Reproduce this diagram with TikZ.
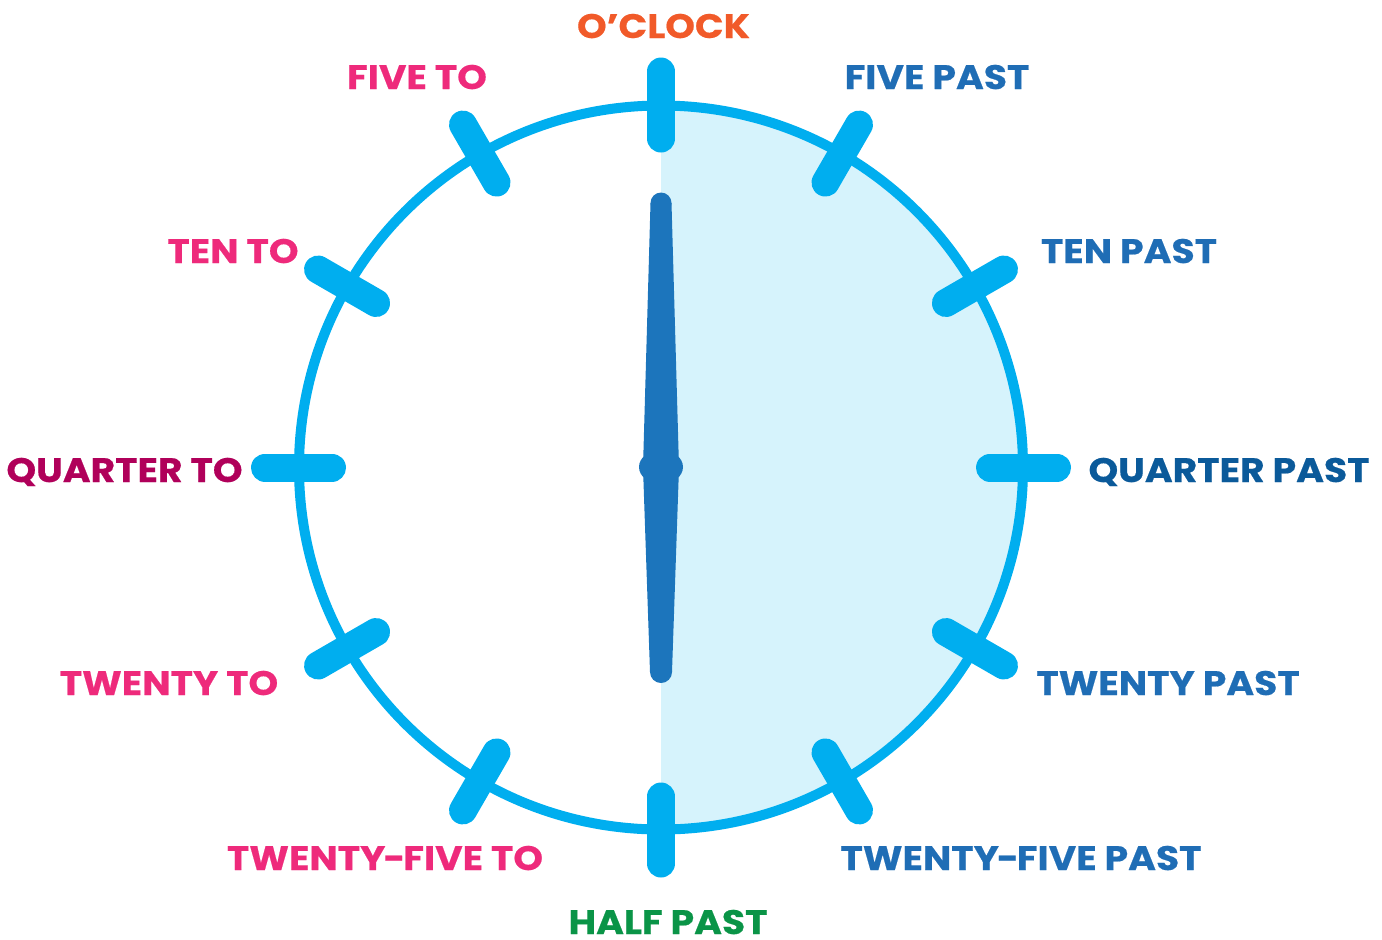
\documentclass[tikz,border=0pt]{standalone}
\usepackage{fontspec}
\setmainfont{Poppins}
\newfontfamily\lblfont{Poppins}[FakeStretch=1.11, BoldFeatures={FakeBold=0.5}]
\newcommand{\hyp}{\kern-1pt-\kern-1pt}
\definecolor{ring}{HTML}{00AEEF}
\definecolor{lightfill}{HTML}{D6F3FC}
\definecolor{handc}{HTML}{1C75BC}
\definecolor{orangec}{HTML}{F15A29}
\definecolor{pinkc}{HTML}{EE2A7B}
\definecolor{magc}{HTML}{B0005A}
\definecolor{bluec}{HTML}{1F6DB5}
\definecolor{dbluec}{HTML}{0B5A9A}
\definecolor{greenc}{HTML}{0A9447}
\begin{document}
\begin{tikzpicture}[x=0.5pt,y=-0.5pt,
  lbl/.style={anchor=base,inner sep=0pt,font=\lblfont\fontsize{17}{20}\selectfont\bfseries},
  tickmark/.style={draw=ring,line width=14pt,line cap=round},
  ringline/.style={draw=ring,line width=5pt}]
\useasboundingbox (0,0) rectangle (1382,939);
% light right half
\begin{scope}
  \clip (661,0) rectangle (1382,939);
  \fill[lightfill] (661,467.5) circle (362);
\end{scope}
% ring
\draw[ringline] (661,467.5) circle (362);
% ticks
\foreach \a in {0,30,...,330}{
  \draw[tickmark] ({661+329*cos(\a)},{467.5-329*sin(\a)}) -- ({661+396*cos(\a)},{467.5-396*sin(\a)});
}
% hand
\fill[handc] (650.5,203) -- (643,467.5) -- (650,672) -- (672,672) -- (679,467.5) -- (671.5,203) -- cycle;
\fill[handc] (661,203) circle (10.5);
\fill[handc] (661,672) circle (11);
\fill[handc] (661,467) ellipse (22 and 17);
% labels
\node[lbl,text=orangec] (oclock) at (663.5,38) {O’CLOCK};
\node[lbl,text=pinkc] (fiveto) at (417,89) {FIVE TO};
\node[lbl,text=bluec] (fivepast) at (937,89) {FIVE PAST};
\node[lbl,text=pinkc] (tento) at (233,263) {TEN TO};
\node[lbl,text=bluec] (tenpast) at (1129,263) {TEN PAST};
\node[lbl,text=magc] (quarterto) at (124.5,482) {QUARTER TO};
\node[lbl,text=dbluec] (quarterpast) at (1229,482) {QUARTER PAST};
\node[lbl,text=pinkc] (twentyto) at (169,695) {TWENTY TO};
\node[lbl,text=bluec] (twentypast) at (1168,695) {TWENTY PAST};
\node[lbl,text=pinkc] (twentyfiveto) at (385,870) {TWENTY\hyp FIVE TO};
\node[lbl,text=bluec] (twentyfivepast) at (1021,870) {TWENTY\hyp FIVE PAST};
\node[lbl,text=greenc] (halfpast) at (668,934) {HALF PAST};
\end{tikzpicture}
\end{document}
